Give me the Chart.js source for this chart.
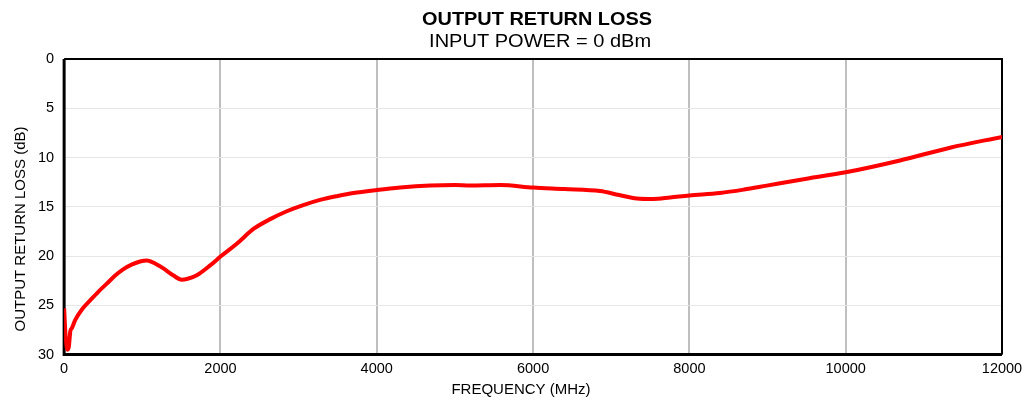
<!DOCTYPE html>
<html>
<head>
<meta charset="utf-8">
<script src="https://cdn.jsdelivr.net/npm/chart.js@4/dist/chart.umd.min.js"></script>
<style>
html,body{margin:0;padding:0;background:#fff;}
#wrap{width:1024px;height:402px;position:relative;}
</style>
</head>
<body>
<div id="wrap"><canvas id="c" width="1024" height="402"></canvas></div>
<script>
const titleText = "OUTPUT RETURN LOSS";
const subtitleText = "INPUT POWER = 0 dBm";
const xTitle = "FREQUENCY (MHz)";
const yTitle = "OUTPUT RETURN LOSS (dB)";
const xTicks = [0, 2000, 4000, 6000, 8000, 10000, 12000];
const yTicks = [0, 5, 10, 15, 20, 25, 30];

const freqMHz = [0, 20, 45, 60, 80, 100, 141, 230, 333, 440, 546, 650, 755, 870, 972, 1058, 1186, 1270, 1395, 1506, 1580, 1697, 1868, 2008, 2209, 2422, 2650, 2849, 3050, 3275, 3500, 3701, 4000, 4300, 4682, 5000, 5194, 5578, 6000, 6400, 6857, 7100, 7327, 7536, 7753, 8000, 8392, 8700, 8990, 9500, 10000, 10695, 11335, 12000];
const returnLossDb = [25.3, 28.3, 29.5, 29.2, 27.6, 27.3, 26.5, 25.4, 24.5, 23.6, 22.8, 22.0, 21.35, 20.85, 20.55, 20.45, 20.85, 21.25, 21.95, 22.4, 22.3, 21.95, 20.95, 20.0, 18.75, 17.25, 16.2, 15.45, 14.85, 14.3, 13.9, 13.6, 13.3, 13.05, 12.85, 12.8, 12.85, 12.8, 13.05, 13.2, 13.4, 13.8, 14.15, 14.2, 14.05, 13.85, 13.6, 13.25, 12.85, 12.15, 11.5, 10.3, 9.0, 7.9];

const points = freqMHz.map((f, i) => ({x: f, y: returnLossDb[i]}));

const FONT = "'Liberation Sans', Arial, sans-serif";

const frame = {
  id: 'frame',
  beforeDatasetsDraw(chart) {
    const a = chart.chartArea, ctx = chart.ctx;
    ctx.save();
    ctx.strokeStyle = '#000';
    ctx.lineWidth = 2;
    ctx.beginPath();
    ctx.moveTo(a.left, a.top); ctx.lineTo(a.right, a.top); ctx.lineTo(a.right, a.bottom);
    ctx.stroke();
    ctx.lineWidth = 3;
    ctx.beginPath();
    ctx.moveTo(a.left, a.top); ctx.lineTo(a.left, a.bottom); ctx.lineTo(a.right, a.bottom);
    ctx.stroke();
    ctx.restore();
  },
  afterDraw(chart) {
    const a = chart.chartArea, ctx = chart.ctx;
    ctx.save();
    const cx = (a.left + a.right) / 2;
    const drawStretched = (text, font, width, x, y) => {
      ctx.font = font;
      const w = ctx.measureText(text).width;
      const sx = width / w;
      ctx.save();
      ctx.translate(x, y);
      ctx.scale(sx, 1);
      ctx.fillStyle = '#000';
      ctx.textAlign = 'center';
      ctx.textBaseline = 'alphabetic';
      ctx.fillText(text, 0, 0);
      ctx.restore();
    };
    drawStretched(titleText, "bold 19px " + FONT, 230, cx + 4, 25);
    drawStretched(subtitleText, "18px " + FONT, 222, cx + 7, 47);
    ctx.fillStyle = '#000';
    ctx.font = "15px " + FONT;
    ctx.textAlign = 'center';
    ctx.textBaseline = 'alphabetic';
    ctx.fillText(xTitle, 521, 394);
    ctx.save();
    ctx.translate(25, 229);
    ctx.rotate(-Math.PI / 2);
    ctx.fillText(yTitle, 0, 0);
    ctx.restore();
    ctx.restore();
  }
};

Chart.defaults.font.family = FONT;
Chart.defaults.color = '#000';

new Chart(document.getElementById('c'), {
  type: 'line',
  data: {
    datasets: [{
      data: points,
      borderColor: '#ff0000',
      borderWidth: 4,
      pointRadius: 0,
      cubicInterpolationMode: 'monotone',
      fill: false
    }]
  },
  options: {
    responsive: false,
    animation: false,
    layout: {padding: {left: 28, right: 22, top: 59, bottom: 18}},
    plugins: {
      legend: {display: false},
      tooltip: {enabled: false},
      title: {display: false}
    },
    scales: {
      x: {
        type: 'linear', min: 0, max: 12000,
        afterBuildTicks(s) { s.ticks = xTicks.map(v => ({value: v})); },
        afterFit(s) { s.paddingRight = 0; s.paddingLeft = 0; },
        ticks: {font: {size: 14.5}, padding: 6, maxRotation: 0, callback: v => String(v)},
        grid: {color: '#bfbfbf', lineWidth: 2, drawTicks: false},
        border: {display: false},
        title: {display: false}
      },
      y: {
        type: 'linear', min: 0, max: 30, reverse: true,
        afterBuildTicks(s) { s.ticks = yTicks.map(v => ({value: v})); },
        ticks: {font: {size: 14.5}, padding: 10, callback: v => String(v)},
        grid: {color: '#e6e6e6', lineWidth: 1, drawTicks: false},
        border: {display: false},
        title: {display: false}
      }
    }
  },
  plugins: [frame]
});
</script>
</body>
</html>
